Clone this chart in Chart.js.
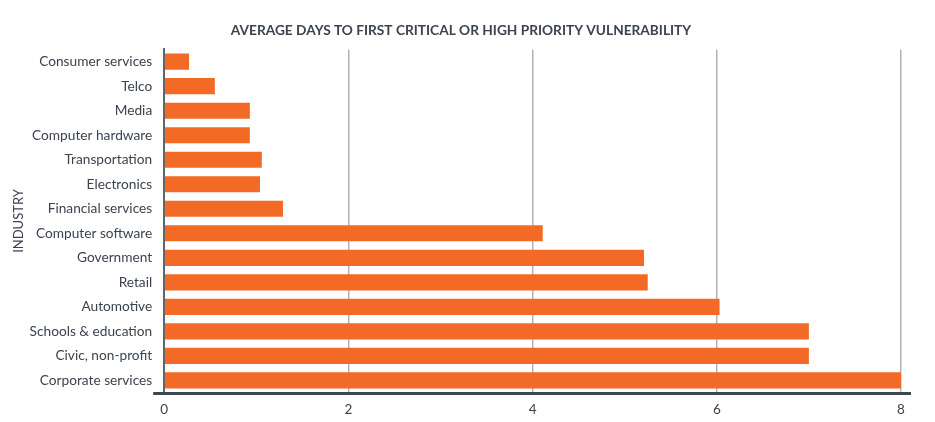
<!DOCTYPE html>
<html>
<head>
<meta charset="utf-8">
<script src="https://cdn.jsdelivr.net/npm/chart.js@4"></script>
<style>
  html, body { margin: 0; padding: 0; background: #fff; overflow: hidden; }
  #wrap { width: 935px; height: 443px; position: relative; }
</style>
</head>
<body>
<div id="wrap"><canvas id="daysChart"></canvas></div>
<script>
// Industries, top to bottom
const industries = [
    "Consumer services", "Telco", "Media", "Computer hardware", "Transportation",
    "Electronics", "Financial services", "Computer software", "Government", "Retail",
    "Automotive", "Schools & education", "Civic, non-profit", "Corporate services"
];

// Average days to first critical / high priority vulnerability
const avgDays = [0.27, 0.55, 0.93, 0.93, 1.06, 1.04, 1.29, 4.11, 5.21, 5.25, 6.03, 7.0, 7.0, 8.0];

const dayTicks = [0, 2, 4, 6, 8];

const textColor = '#3b4350';

// long dark baseline under the bars, a bit wider than the plot
const baseLine = {
    id: 'baseLine',
    afterDraw(chart) {
        const a = chart.chartArea;
        const c = chart.ctx;
        c.save();
        c.strokeStyle = '#3d4651';
        c.lineWidth = 3;
        c.beginPath();
        c.moveTo(a.left - 11, a.bottom + 1);
        c.lineTo(a.right + 10, a.bottom + 1);
        c.stroke();
        c.restore();
    }
};

const ctx = document.getElementById('daysChart').getContext('2d');
const daysChart = new Chart(ctx, {
    type: 'bar',
    data: {
        labels: industries,
        datasets: [{
            label: 'Days',
            data: avgDays,
            backgroundColor: '#f26a26',
            barPercentage: 0.66,
            categoryPercentage: 1
        }]
    },
    options: {
        indexAxis: 'y',
        responsive: true,
        maintainAspectRatio: false,
        animation: false,
        layout: { padding: { left: 21, right: 34, top: 0, bottom: 0 } },
        plugins: {
            legend: { display: false },
            tooltip: { enabled: false },
            title: {
                display: true,
                text: 'AVERAGE DAYS TO FIRST CRITICAL OR HIGH PRIORITY VULNERABILITY',
                color: textColor,
                font: { family: 'Lato', size: 13.7, weight: 'bold' },
                padding: { top: 22, bottom: 11 }
            }
        },
        scales: {
            x: {
                min: 0,
                max: 8,
                afterBuildTicks: axis => { axis.ticks = dayTicks.map(v => ({ value: v })); },
                grid: { color: '#b3b3b6', lineWidth: 1.5, drawTicks: false },
                border: { display: false },
                ticks: { color: textColor, font: { family: 'Lato', size: 13.5 }, padding: 9 },
                title: {
                    display: true,
                    text: 'DAYS',
                    color: textColor,
                    font: { family: 'Lato', size: 13.5, weight: 'bold' },
                    padding: { top: -3, bottom: 3 }
                }
            },
            y: {
                grid: { display: false, drawTicks: false },
                border: { display: true, color: '#5e656d', width: 2 },
                ticks: { color: textColor, font: { family: 'Lato', size: 13.7 }, padding: 12 },
                title: {
                    display: true,
                    text: 'INDUSTRY',
                    color: textColor,
                    font: { family: 'Lato', size: 13 },
                    padding: { top: -10, bottom: -9 }
                }
            }
        }
    },
    plugins: [baseLine]
});
</script>
</body>
</html>
